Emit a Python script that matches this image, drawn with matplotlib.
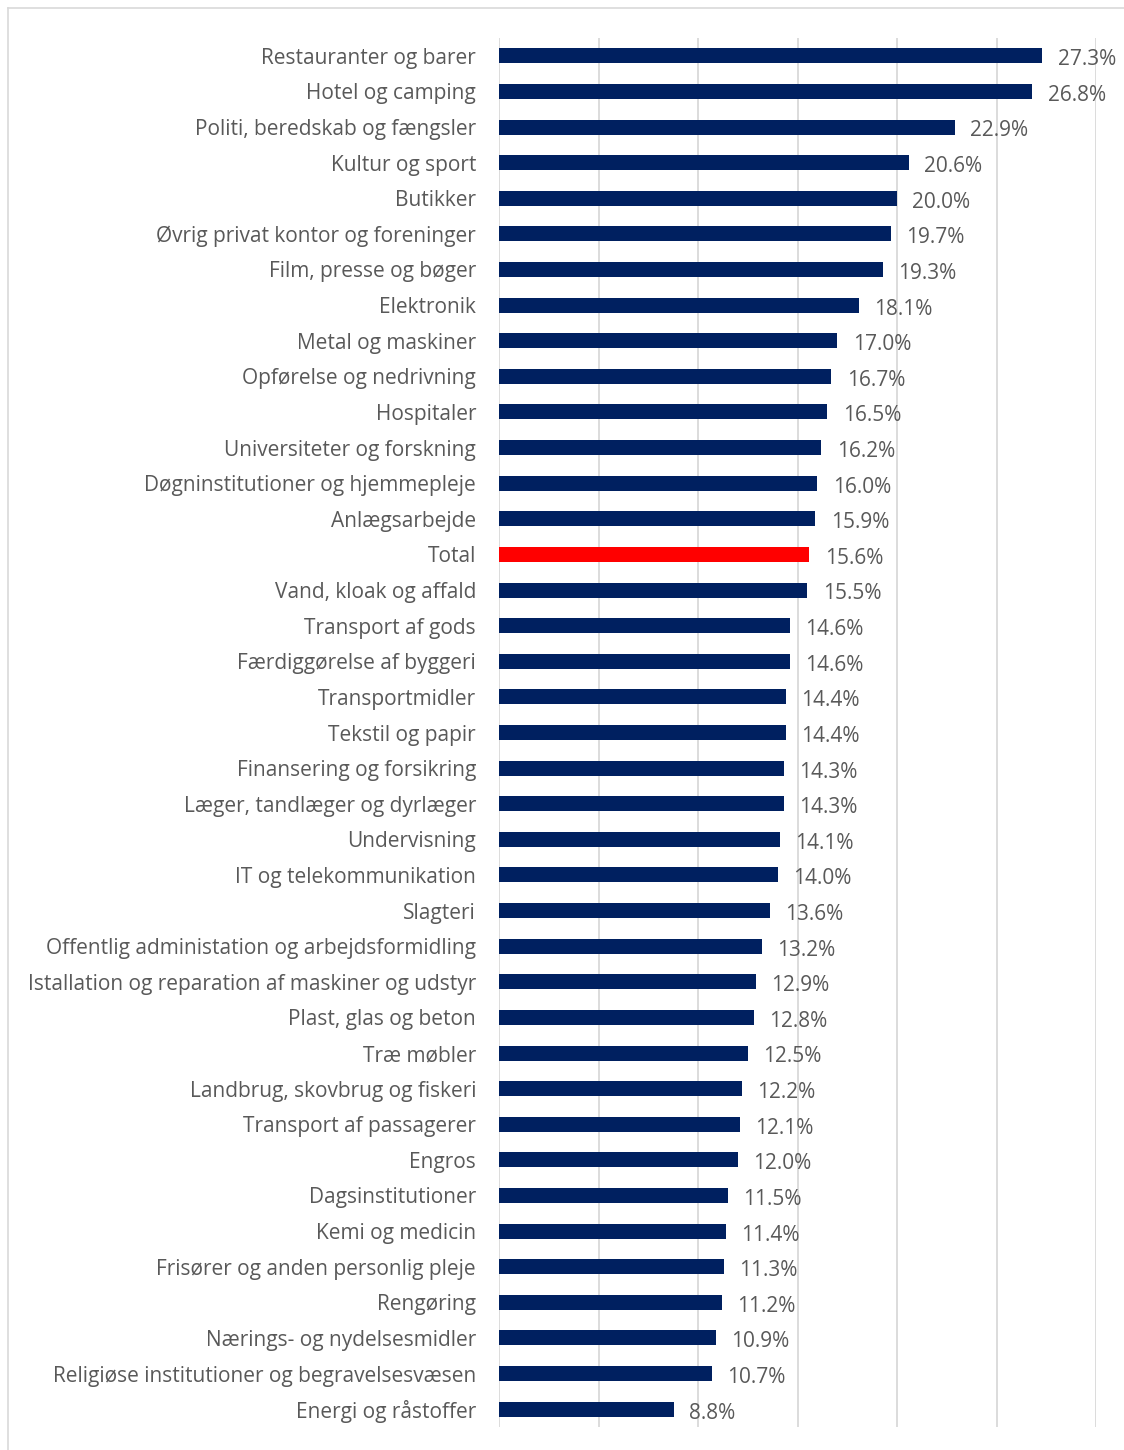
import matplotlib.pyplot as plt
from matplotlib.lines import Line2D

categories = [
    "Restauranter og barer", "Hotel og camping", "Politi, beredskab og fængsler",
    "Kultur og sport", "Butikker", "Øvrig privat kontor og foreninger",
    "Film, presse og bøger", "Elektronik", "Metal og maskiner",
    "Opførelse og nedrivning", "Hospitaler", "Universiteter og forskning",
    "Døgninstitutioner og hjemmepleje", "Anlægsarbejde", "Total",
    "Vand, kloak og affald", "Transport af gods", "Færdiggørelse af byggeri",
    "Transportmidler", "Tekstil og papir", "Finansering og forsikring",
    "Læger, tandlæger og dyrlæger", "Undervisning", "IT og telekommunikation",
    "Slagteri", "Offentlig administation og arbejdsformidling",
    "Istallation og reparation af maskiner og udstyr", "Plast, glas og beton",
    "Træ møbler", "Landbrug, skovbrug og fiskeri", "Transport af passagerer",
    "Engros", "Dagsinstitutioner", "Kemi og medicin",
    "Frisører og anden personlig pleje", "Rengøring",
    "Nærings- og nydelsesmidler", "Religiøse institutioner og begravelsesvæsen",
    "Energi og råstoffer",
]
values = [
    27.3, 26.8, 22.9, 20.6, 20.0, 19.7, 19.3, 18.1, 17.0, 16.7, 16.5, 16.2,
    16.0, 15.9, 15.6, 15.5, 14.6, 14.6, 14.4, 14.4, 14.3, 14.3, 14.1, 14.0,
    13.6, 13.2, 12.9, 12.8, 12.5, 12.2, 12.1, 12.0, 11.5, 11.4, 11.3, 11.2,
    10.9, 10.7, 8.8,
]

plt.rcParams['font.family'] = ['Open Sans', 'DejaVu Sans']
text_color = '#595959'
colors = ['#FF0000' if c == 'Total' else '#002060' for c in categories]

W, H = 1124, 1450
fig = plt.figure(figsize=(W / 100, H / 100), dpi=100)
ax = fig.add_axes([499 / W, 1 - 1427 / H, (1096 - 499) / W, (1427 - 38) / H])

y = list(range(len(categories)))
ax.barh(y, values, height=0.42, color=colors)
ax.set_ylim(len(categories) - 0.5, -0.5)
ax.set_xlim(0, 30)
ax.set_xticks([0, 5, 10, 15, 20, 25, 30])
ax.xaxis.grid(True, color='#d9d9d9', linewidth=1.3)
ax.set_axisbelow(True)
ax.tick_params(axis='x', length=0, labelbottom=False)
ax.tick_params(axis='y', length=0, pad=16.5, labelsize=15, labelcolor=text_color)
ax.set_yticks(y)
ax.set_yticklabels(categories, va='center_baseline')
for s in ax.spines.values():
    s.set_visible(False)

for yi, v in zip(y, values):
    ax.annotate(f"{v:.1f}%", (v, yi), xytext=(11, -1), textcoords='offset points',
                va='center_baseline', ha='left', fontsize=15, color=text_color)

# chart area border
bc = '#d9d9d9'
fig.add_artist(Line2D([8 / W, 8 / W], [0, 1 - 8 / H], color=bc, lw=1.2))
fig.add_artist(Line2D([8 / W, 1], [1 - 8 / H, 1 - 8 / H], color=bc, lw=1.2))

fig.savefig('out.png', dpi=100)
